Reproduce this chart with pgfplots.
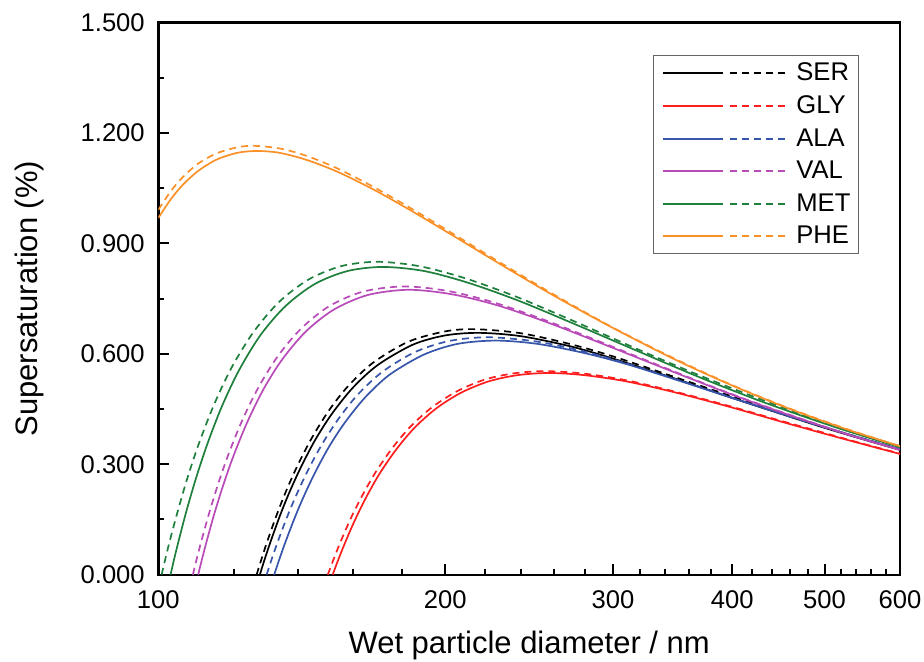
\documentclass[border=0pt]{standalone}
\usepackage{pgfplots}
\pgfplotsset{compat=1.18}
\usepackage{fontspec}
\setmainfont{Liberation Sans}
\definecolor{cSER}{RGB}{0,0,0}
\definecolor{cGLY}{RGB}{255,30,30}
\definecolor{cALA}{RGB}{55,85,170}
\definecolor{cVAL}{RGB}{185,75,185}
\definecolor{cMET}{RGB}{30,128,60}
\definecolor{cPHE}{RGB}{250,145,40}
\pgfplotsset{
  solidc/.style={color=#1, line width=0.85pt, solid, smooth},
  dashc/.style={color=#1, line width=0.85pt, dash pattern=on 3.5pt off 2.5pt, smooth, forget plot},
  pairleg/.style={legend image code/.code={
     \draw[##1,solid,line width=0.85pt] (0pt,0pt)--(30pt,0pt);
     \draw[##1,line width=0.85pt,dash pattern=on 3.5pt off 2.5pt] (33.5pt,0pt)--(62.5pt,0pt);}},
}
\begin{document}
\begin{tikzpicture}
\begin{axis}[
  at={(0,0)}, anchor=south west,
  scale only axis, width=370.85pt, height=276.1pt,
  xmode=log, xmin=100, xmax=600, ymin=0, ymax=1.5,
  xtick={100,200,300,400,500,600},
  xticklabels={100,200,300,400,500,600},
  minor xtick={120,140,160,180,220,240,260,280,320,340,360,380,420,440,460,480,520,540,560,580},
  ytick={0,0.3,0.6,0.9,1.2,1.5},
  yticklabels={0.000,0.300,0.600,0.900,1.200,1.500},
  minor ytick={0.15,0.45,0.75,1.05,1.35},
  tick pos=left, tick align=inside,
  major tick length=5.5pt, minor tick length=3pt,
  every tick/.style={black, line width=1pt},
  axis line style={line width=1.2pt},
  /pgf/number format/assume math mode=true,
  tick label style={font=\fontsize{12.8}{14}\selectfont},
  yticklabel style={inner sep=0pt, xshift=-6.6pt},
  xticklabel style={inner sep=0pt, yshift=-7.6pt},
  xlabel={Wet particle diameter / nm},
  ylabel={Supersaturation (\%)},
  label style={font=\fontsize{15.5}{17}\selectfont},
  xlabel style={at={(axis description cs:0.5,0)}, anchor=base, yshift=-39.6pt, inner sep=0pt},
  ylabel style={at={(axis description cs:0,0.5)}, anchor=base, yshift=60.6pt, inner sep=0pt},
  legend style={at={(0.9447,0.9411)}, anchor=north east, draw=black!60, line width=0.6pt,
    font=\fontsize{12.8}{14}\selectfont, inner xsep=4pt, inner ysep=3.6pt,
    row sep=5.95pt, column sep=4pt, nodes={inner sep=0pt}},
  legend cell align=left,
  clip=true,
]
% SER
\addplot[solidc=cSER, pairleg] coordinates {
(127.8,0) (129,0.034) (131,0.086) (134,0.157) (137,0.219) (141,0.290) (146,0.365)
(152,0.436) (160,0.508) (170,0.570) (185,0.625) (200,0.650) (217,0.657) (240,0.648)
(270,0.621) (300,0.587) (350,0.531) (400,0.480) (450,0.437) (500,0.399) (550,0.367) (600,0.339)};
\addlegendentry{SER}
\addplot[dashc=cSER] coordinates {
(126.8,0) (128,0.034) (130,0.088) (133,0.160) (136,0.224) (140,0.297) (145,0.373)
(151,0.446) (158,0.511) (168,0.576) (183,0.633) (200,0.661) (215,0.667) (240,0.656)
(270,0.627) (300,0.593) (350,0.535) (400,0.484) (450,0.440) (500,0.401) (550,0.369) (600,0.341)};
% GLY
\addplot[solidc=cGLY, pairleg] coordinates {
(152.4,0) (154,0.032) (156,0.069) (159,0.120) (162,0.166) (166,0.220) (171,0.278)
(178,0.343) (186,0.401) (196,0.453) (208,0.495) (222,0.525) (238,0.542) (257,0.548)
(280,0.542) (310,0.525) (350,0.494) (400,0.454) (450,0.416) (500,0.383) (550,0.354) (600,0.328)};
\addlegendentry{GLY}
\addplot[dashc=cGLY] coordinates {
(150.6,0) (152,0.028) (154,0.066) (157,0.118) (160,0.165) (164,0.219) (169,0.278)
(176,0.344) (184,0.403) (194,0.456) (206,0.499) (220,0.530) (236,0.547) (255,0.553)
(280,0.546) (310,0.528) (350,0.496) (400,0.456) (450,0.418) (500,0.385) (550,0.355) (600,0.329)};
% ALA
\addplot[solidc=cALA, pairleg] coordinates {
(132.3,0) (134,0.043) (136,0.090) (139,0.154) (142,0.211) (146,0.277) (151,0.347)
(157,0.414) (165,0.483) (175,0.544) (190,0.598) (206,0.627) (226,0.636) (250,0.627)
(280,0.602) (310,0.572) (350,0.529) (400,0.480) (450,0.438) (500,0.401) (550,0.369) (600,0.341)};
\addlegendentry{ALA}
\addplot[dashc=cALA] coordinates {
(129.9,0) (131.5,0.042) (133.5,0.091) (136.5,0.157) (139.5,0.215) (143.5,0.283) (148.5,0.354)
(154.5,0.423) (162,0.490) (172,0.552) (186,0.605) (202,0.635) (222,0.645) (250,0.633)
(280,0.606) (310,0.574) (350,0.530) (400,0.481) (450,0.437) (500,0.400) (550,0.368) (600,0.340)};
% VAL
\addplot[solidc=cVAL, pairleg] coordinates {
(110.1,0) (111.2,0.045) (112.5,0.095) (114.5,0.166) (117,0.244) (120,0.325) (124,0.415)
(129,0.505) (135,0.586) (143,0.662) (153,0.721) (166,0.760) (183,0.774) (203,0.762)
(226,0.733) (255,0.687) (290,0.631) (340,0.560) (400,0.489) (460,0.433) (530,0.380) (600,0.339)};
\addlegendentry{VAL}
\addplot[dashc=cVAL] coordinates {
(108.7,0) (109.8,0.046) (111,0.093) (113,0.165) (115.5,0.245) (118.5,0.328) (122.5,0.420)
(127.5,0.511) (133.5,0.594) (141,0.667) (151,0.729) (164,0.769) (181,0.783) (201,0.771)
(224,0.741) (253,0.694) (290,0.634) (340,0.562) (400,0.490) (460,0.434) (530,0.381) (600,0.340)};
% MET
\addplot[solidc=cMET, pairleg] coordinates {
(103,0) (104,0.047) (105.2,0.099) (107,0.172) (109.5,0.261) (112.5,0.353) (116.5,0.455)
(121.5,0.555) (128,0.651) (136,0.730) (146,0.790) (158,0.825) (172,0.836) (190,0.825)
(212,0.792) (240,0.742) (275,0.678) (320,0.605) (370,0.536) (430,0.470) (510,0.403) (600,0.346)};
\addlegendentry{MET}
\addplot[dashc=cMET] coordinates {
(100.8,0) (101.8,0.047) (103,0.100) (105,0.180) (107.5,0.270) (110.5,0.362) (114.5,0.464)
(119.5,0.565) (126,0.661) (134,0.742) (144,0.803) (156,0.839) (170,0.850) (188,0.838)
(210,0.805) (238,0.754) (275,0.685) (320,0.610) (370,0.541) (430,0.475) (510,0.406) (600,0.349)};
% PHE
\addplot[solidc=cPHE, pairleg] coordinates {
(100,0.969) (103,1.019) (106,1.058) (110,1.096) (115,1.127) (121,1.146) (127,1.151)
(134,1.146) (143,1.127) (154,1.095) (168,1.047) (185,0.986) (205,0.917) (230,0.839)
(260,0.758) (300,0.670) (350,0.582) (400,0.514) (460,0.450) (530,0.393) (600,0.349)};
\addlegendentry{PHE}
\addplot[dashc=cPHE] coordinates {
(100,0.991) (103,1.041) (106,1.079) (110,1.116) (115,1.144) (121,1.161) (126,1.165)
(134,1.158) (143,1.138) (154,1.104) (168,1.054) (185,0.992) (205,0.922) (230,0.843)
(260,0.761) (300,0.671) (350,0.584) (400,0.515) (460,0.451) (530,0.394) (600,0.349)};
\end{axis}
\pgfresetboundingbox
\path[use as bounding box] (-79.15pt,-43.15pt) rectangle (382.85pt,287.35pt);
\end{tikzpicture}
\end{document}
